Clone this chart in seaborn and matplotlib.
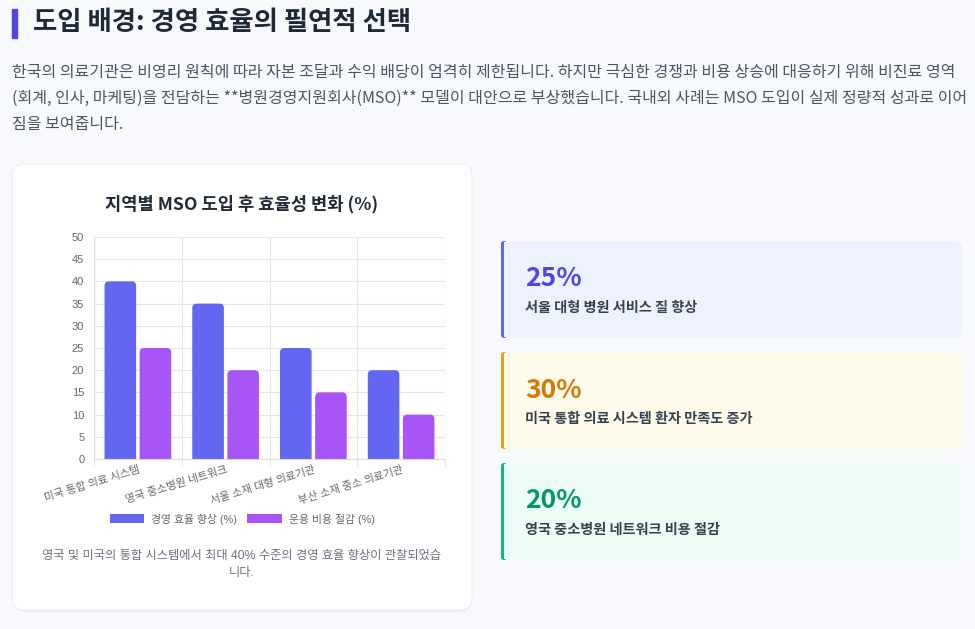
import matplotlib
matplotlib.use("Agg")
import matplotlib.pyplot as plt
from matplotlib.patches import FancyBboxPatch, Rectangle
import pandas as pd
import seaborn as sns

# ---- data ----
categories = ["미국 통합 의료 시스템", "영국 중소병원 네트워크", "서울 소재 대형 의료기관", "부산 소재 중소 의료기관"]
efficiency_gain = [40, 35, 25, 20]
cost_saving = [25, 20, 15, 10]
series_names = ["경영 효율 향상 (%)", "운용 비용 절감 (%)"]

card_values = ["25%", "30%", "20%"]
card_labels = ["서울 대형 병원 서비스 질 향상", "미국 통합 의료 시스템 환자 만족도 증가", "영국 중소병원 네트워크 비용 절감"]

title = "도입 배경: 경영 효율의 필연적 선택"
intro_lines = [
    "한국의 의료기관은 비영리 원칙에 따라 자본 조달과 수익 배당이 엄격히 제한됩니다. 하지만 극심한 경쟁과 비용 상승에 대응하기 위해 비진료 영역",
    "(회계, 인사, 마케팅)을 전담하는 **병원경영지원회사(MSO)** 모델이 대안으로 부상했습니다. 국내외 사례는 MSO 도입이 실제 정량적 성과로 이어",
    "짐을 보여줍니다.",
]
chart_title = "지역별 MSO 도입 후 효율성 변화 (%)"
caption_lines = ["영국 및 미국의 통합 시스템에서 최대 40% 수준의 경영 효율 향상이 관찰되었습", "니다."]

W, H = 975, 629
BAR_COLORS = ["#6366f1", "#a855f7"]
CARD_BG = ["#eef2ff", "#fffbeb", "#ecfdf5"]
CARD_EDGE = ["#6366f1", "#f59e0b", "#10b981"]
CARD_NUM = ["#4f46e5", "#d97706", "#059669"]
CHART_FONT = ["Liberation Sans", "Noto Sans CJK KR"]

sns.set_theme(style="white")
plt.rcParams["font.family"] = ["Noto Sans CJK KR", "DejaVu Sans"]

fig = plt.figure(figsize=(W / 100, H / 100), dpi=100)
fig.patch.set_facecolor("#f8f9fc")

# background canvas in pixel coordinates
bg = fig.add_axes([0, 0, 1, 1], zorder=0)
bg.set_xlim(0, W)
bg.set_ylim(H, 0)
bg.axis("off")

# header
bg.add_patch(Rectangle((12, 9), 5, 29, color="#4f46e5"))
bg.text(33, 23, title, fontsize=19, fontweight="bold", color="#1f2937", va="center")
for i, line in enumerate(intro_lines):
    bg.text(12, 73 + i * 25.5, line, fontsize=11.5, color="#4b5563", va="center")

# chart card
bg.add_patch(FancyBboxPatch((14, 167), 458, 445, boxstyle="round,pad=0,rounding_size=12",
                            facecolor="#e9ebf0", edgecolor="none"))
bg.add_patch(FancyBboxPatch((12, 164), 460, 446, boxstyle="round,pad=0,rounding_size=12",
                            facecolor="white", edgecolor="#eceef2", linewidth=0.8))
bg.text(242, 204, chart_title, fontsize=12.7, fontweight="bold", color="#1f2937",
        ha="center", va="center")
for i, line in enumerate(caption_lines):
    bg.text(242, 556 + i * 17, line, fontsize=8.8, color="#6b7280", ha="center", va="center",
            family=CHART_FONT)

# stat cards
for i, (val, lab) in enumerate(zip(card_values, card_labels)):
    top = 241 + i * 111
    bg.add_patch(FancyBboxPatch((502, top), 460, 97, boxstyle="round,pad=0,rounding_size=8",
                                facecolor=CARD_BG[i], edgecolor="none"))
    bg.add_patch(FancyBboxPatch((501, top), 6, 97, boxstyle="round,pad=0,rounding_size=3",
                                facecolor=CARD_EDGE[i], edgecolor="none"))
    bg.add_patch(Rectangle((503.5, top + 1), 4, 95, facecolor=CARD_BG[i], edgecolor="none"))
    bg.text(525, top + 38, val, fontsize=19, fontweight="bold", color=CARD_NUM[i], va="center")
    bg.text(525, top + 67, lab, fontsize=10.2, fontweight="bold", color="#374151", va="center")

# bar chart
df = pd.DataFrame({
    "category": categories * 2,
    "value": efficiency_gain + cost_saving,
    "series": [series_names[0]] * len(categories) + [series_names[1]] * len(categories),
})

ax_px = (94, 237, 445, 459)  # left, top, right, bottom in pixels
ax = fig.add_axes([ax_px[0] / W, 1 - ax_px[3] / H, (ax_px[2] - ax_px[0]) / W, (ax_px[3] - ax_px[1]) / H],
                  zorder=2)
ax.patch.set_alpha(0)
sns.barplot(data=df, x="category", y="value", hue="series", palette=BAR_COLORS,
            width=0.8, gap=0.1, saturation=1, ax=ax, legend=True)

ax.set_ylim(0, 50)
ax.set_xlim(-0.5, len(categories) - 0.5)

# round the top corners of the bars
x_per_px = len(categories) / (ax_px[2] - ax_px[0])
y_per_px = 50 / (ax_px[3] - ax_px[1])
radius = 4.5
for p in list(ax.patches):
    if p.get_height() <= 0:
        continue
    x0, w, h = p.get_x(), p.get_width(), p.get_height()
    ext = radius * y_per_px
    rounded = FancyBboxPatch((x0, -ext), w, h + ext,
                             boxstyle=f"round,pad=0,rounding_size={radius * x_per_px}",
                             mutation_aspect=y_per_px / x_per_px,
                             facecolor=p.get_facecolor(), edgecolor="none", zorder=p.get_zorder())
    ax.add_patch(rounded)
    p.set_visible(False)

ax.set_yticks(range(0, 51, 5))
ax.set_xticks([c - 0.5 for c in range(len(categories) + 1)], minor=True)
ax.grid(True, axis="y", color="#e6e6e6", linewidth=0.8)
ax.grid(True, axis="x", which="minor", color="#e6e6e6", linewidth=0.8)
ax.grid(False, axis="x", which="major")
ax.set_axisbelow(True)
for s in ["top", "right"]:
    ax.spines[s].set_visible(False)
for s in ["left", "bottom"]:
    ax.spines[s].set_color("#dddddd")
    ax.spines[s].set_linewidth(0.8)
ax.tick_params(axis="y", which="major", length=5, width=0.8, color="#e6e6e6",
               labelsize=8, labelcolor="#666666", pad=2)
ax.tick_params(axis="x", which="major", length=0, labelsize=7.8, labelcolor="#666666", pad=4)
ax.tick_params(axis="x", which="minor", length=5, width=0.8, color="#e6e6e6", bottom=True)
for lbl in ax.get_yticklabels():
    lbl.set_family(CHART_FONT)
for lbl in ax.get_xticklabels():
    lbl.set_family(CHART_FONT)
plt.setp(ax.get_xticklabels(), rotation=17, ha="right", rotation_mode="anchor")
ax.set_xlabel("")
ax.set_ylabel("")

leg = ax.legend(loc="center", bbox_to_anchor=(242 / W, 1 - 519 / H), bbox_transform=fig.transFigure,
                ncol=2, frameon=False, fontsize=7.8, handlelength=3.2, handleheight=0.9,
                columnspacing=1.0, handletextpad=0.6)
for h in leg.legend_handles:
    h.set_edgecolor("none")
for t in leg.get_texts():
    t.set_color("#666666")
    t.set_family(CHART_FONT)

fig.savefig("out.png", dpi=100, facecolor=fig.get_facecolor())
